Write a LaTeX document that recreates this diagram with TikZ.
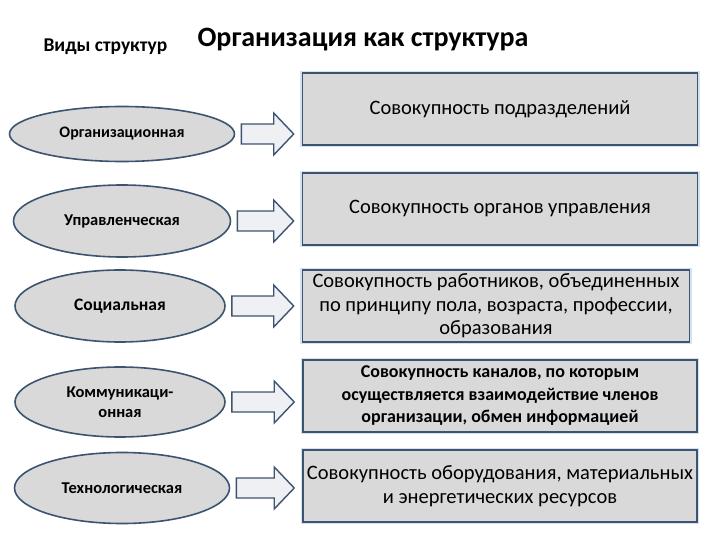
\documentclass[tikz,border=0pt]{standalone}
\usepackage{fontspec}
\setmainfont{Carlito}
\usetikzlibrary{shapes.geometric,calc}
\definecolor{edgeblue}{RGB}{60,84,112}
\definecolor{fillgray}{RGB}{217,217,217}
\definecolor{arrowfill}{RGB}{238,240,244}
\definecolor{glow}{RGB}{214,226,240}

\newcommand{\blockarrow}[2]{%
  \draw[barrow] let \p1=($(#1.east)+(6,0)$), \p2=($(#2.west|-#1.center)-(8,0)$) in
    (\x1,\y1+10pt) -- (\x2-20pt,\y1+10pt) -- (\x2-20pt,\y1+21pt) -- (\x2,\y1)
    -- (\x2-20pt,\y1-21pt) -- (\x2-20pt,\y1-10pt) -- (\x1,\y1-10pt) -- cycle;}

\begin{document}
\begin{tikzpicture}[x=1pt,y=-1pt,
    kind/.style={ellipse,draw=edgeblue,fill=fillgray,line width=1.6pt,inner sep=0pt,align=center,
      font=\bfseries\fontsize{16.5}{20}\selectfont},
    desc/.style={rectangle,draw=edgeblue,fill=fillgray,line width=1.6pt,inner sep=2pt,align=center,
      preaction={draw=glow,line width=4.6pt},font=\fontsize{20.5}{23.5}\selectfont},
    barrow/.style={draw=edgeblue,fill=arrowfill,line width=1.4pt,line join=miter}]
    \useasboundingbox[fill=white] (0,0) rectangle (720,540);
    \node[anchor=base west,font=\bfseries\fontsize{19.5}{22}\selectfont] (kinds) at (40,52) {Виды структур};
    \node[anchor=base west,font=\bfseries\fontsize{28}{32}\selectfont] (title) at (194,47) {Организация как структура};

    \node[kind,minimum width=225,minimum height=55,font=\bfseries\fontsize{16}{20}\selectfont] (org) at (122,134) {Организационная};
    \node[kind,minimum width=217,minimum height=72] (mgmt) at (122,221) {Управленческая};
    \node[kind,minimum width=210,minimum height=72,font=\bfseries\fontsize{17.5}{20}\selectfont] (soc) at (120,306) {Социальная};
    \node[kind,minimum width=210,minimum height=70] (comm) at (120,402) {Коммуникаци-\\онная};
    \node[kind,minimum width=215,minimum height=71] (tech) at (122,488) {Технологическая};

    \node[desc,minimum width=395,minimum height=72] (units) at (500,109) {Совокупность подразделений};
    \node[desc,minimum width=395,minimum height=72] (organs) at (500,209) {Совокупность органов управления};
    \node[desc,minimum width=387,minimum height=72] (staff) at (496,306) {Совокупность работников, объединенных\\по принципу пола, возраста, профессии,\\образования};
    \node[desc,minimum width=394,minimum height=72,font=\bfseries\fontsize{18}{22.5}\selectfont] (chan) at (500,396) {Совокупность каналов, по которым\\осуществляется взаимодействие членов\\организации, обмен информацией};
    \node[desc,minimum width=394,minimum height=72] (equip) at (500,486) {Совокупность оборудования, материальных\\и энергетических ресурсов};

    \blockarrow{org}{units}
    \blockarrow{mgmt}{organs}
    \blockarrow{soc}{staff}
    \blockarrow{comm}{chan}
    \blockarrow{tech}{equip}
\end{tikzpicture}
\end{document}
